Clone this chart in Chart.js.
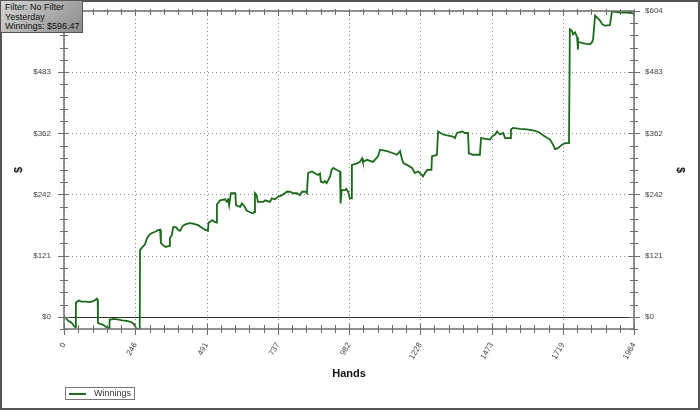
<!DOCTYPE html>
<html>
<head>
<meta charset="utf-8">
<script src="https://cdn.jsdelivr.net/npm/chart.js@4/dist/chart.umd.min.js"></script>
<style>
  html,body{margin:0;padding:0;background:#fff;}
  #wrap{position:relative;width:700px;height:410px;overflow:hidden;}
  #info{position:absolute;left:0;top:0;width:83px;height:33px;border:1px solid #555;
    background:linear-gradient(135deg,#d4d4d4,#8c8c8c);font:9px/9.6px "Liberation Sans",Arial,sans-serif;color:#111;
    padding:2px 0 0 4px;box-sizing:border-box;white-space:nowrap;overflow:hidden}
  #legend{position:absolute;left:65px;top:387px;width:70px;height:13px;border:1px solid #777;box-sizing:border-box;
    font:9px/11px "Liberation Sans",Arial,sans-serif;color:#333}
  #legend i{position:absolute;left:3px;top:5px;width:17px;height:2px;background:#1c6b1c}
  #legend span{position:absolute;left:28px;top:0}
</style>
</head>
<body>
<div id="wrap">
  <canvas id="c" width="700" height="410"></canvas>
  <div id="info">Filter: No Filter<br>Yesterday<br>Winnings: $596.47</div>
  <div id="legend"><i></i><span>Winnings</span></div>
</div>
<script>
// data
const hands = [0,8,14,22,28,34,40,41,50,60,75,90,100,108,113,116,117,125,135,145,152,156,157,170,185,200,215,230,240,248,252,261,
  262,279,287,296,305,314,324,331,334,340,350,362,365,372,376,385,393,400,410,420,434,445,462,475,486,496,498,505,510,518,526,
  527,538,555,562,565,569,575,590,593,607,613,623,629,640,651,655,658,664,668,686,693,710,716,727,737,751,768,779,790,803,813,820,833,837,
  841,854,875,882,885,893,899,905,917,922,928,940,951,953,957,968,972,979,985,991,992,1010,1020,1027,1030,1044,1065,1082,1089,1113,1134,1147,
  1158,1165,1170,1182,1199,1209,1220,1234,1237,1244,1251,1266,1268,1285,1289,1306,1340,1347,1354,1371,1382,1392,1395,1409,1433,1437,1468,
  1475,1485,1492,1502,1513,1520,1537,1540,1547,1571,1595,1616,1630,1640,1657,1675,1685,1692,1702,1716,1726,1740,1743,1750,1754,1761,1768,
  1771,1772,1778,1790,1812,1819,1823,1830,1840,1847,1854,1864,1881,1888,1892,1905,1916,1940,1957,1964];
const winnings = [0,-3,-8,-10,-13,-18,-21,28,32,30,30,29,31,33,36,34,-12,-14,-16,-20,-22,-22,-6,-4,-5,-7,-8,-10,-14,-22,-24,-24,
  132,143,156,163,166,168,171,172,146,142,138,140,155,162,177,177,172,170,180,183,185,184,181,176,172,170,186,188,191,188,186,
  222,230,232,227,234,220,244,244,220,217,224,217,210,207,204,207,244,240,227,227,230,227,234,232,237,240,247,247,244,244,240,247,247,244,
  284,287,280,283,267,265,268,264,277,290,294,290,287,224,250,250,253,247,234,234,300,303,306,313,306,310,306,317,330,327,323,320,
  327,310,303,300,294,284,287,280,277,284,290,290,317,320,366,360,356,353,363,366,363,363,323,320,320,353,350,
  356,360,366,360,363,353,353,370,373,371,370,368,366,363,356,350,340,331,333,340,343,343,568,565,558,562,552,
  528,543,542,540,538,542,548,595,589,585,578,575,576,603,603,602,601,601,600,598];

const xTicks = [0,245.5,491,736.5,982,1227.5,1473,1718.5,1964];
const yTicks = [0,120.8,241.6,362.4,483.2,604];
const yMin = -24.16, yMax = 604;

const tickFont = {family:'"Liberation Sans", Arial, sans-serif', size:8};
const titleFont = {family:'"Liberation Sans", Arial, sans-serif', size:11, weight:'bold'};

// dotted grid, zero line, crossed axis ticks, outer frame
const frame = {
  id:'frame',
  beforeDatasetsDraw(chart){
    const {ctx, chartArea:a, scales:{x, y}} = chart;
    ctx.save();
    ctx.strokeStyle = '#8c8c8c'; ctx.lineWidth = 1; ctx.setLineDash([1,3]);
    x.ticks.forEach(t=>{
      const p = Math.round(x.getPixelForValue(t.value))+0.5;
      ctx.beginPath(); ctx.moveTo(p,a.top); ctx.lineTo(p,a.bottom); ctx.stroke();
    });
    y.ticks.forEach(t=>{
      if(t.value===0) return;
      const p = Math.round(y.getPixelForValue(t.value))+0.5;
      ctx.beginPath(); ctx.moveTo(a.left,p); ctx.lineTo(a.right,p); ctx.stroke();
    });
    ctx.setLineDash([]);
    ctx.strokeStyle = '#333';
    const z = Math.round(y.getPixelForValue(0))+0.5;
    ctx.beginPath(); ctx.moveTo(a.left,z); ctx.lineTo(a.right,z); ctx.stroke();
    ctx.restore();
  },
  afterDatasetsDraw(chart){
    const {ctx, chartArea:a, scales:{x, y}} = chart;
    ctx.save();
    ctx.strokeStyle = '#6e6e6e'; ctx.lineWidth = 1.5;
    ctx.strokeRect(a.left, a.top, a.right-a.left, a.bottom-a.top);
    ctx.lineWidth = 1;
    const sub = vals => {
      const out = [];
      for(let i=0;i<vals.length-1;i++){
        const s = (vals[i+1]-vals[i])/5;
        for(let k=1;k<5;k++) out.push(vals[i]+s*k);
      }
      return out;
    };
    const xv = x.ticks.map(t=>t.value), yv = y.ticks.map(t=>t.value);
    const yMinor = sub(yv).concat([yv[0]-(yv[1]-yv[0])/5]);
    const vt = (px, y0, y1) => { ctx.beginPath(); ctx.moveTo(px,y0); ctx.lineTo(px,y1); ctx.stroke(); };
    const ht = (py, x0, x1) => { ctx.beginPath(); ctx.moveTo(x0,py); ctx.lineTo(x1,py); ctx.stroke(); };
    xv.forEach(v=>{ const p=Math.round(x.getPixelForValue(v))+0.5; vt(p,a.bottom-5,a.bottom+6); vt(p,a.top-2,a.top+5); });
    sub(xv).forEach(v=>{ const p=Math.round(x.getPixelForValue(v))+0.5; vt(p,a.bottom-4,a.bottom+4); vt(p,a.top-2,a.top+4); });
    yv.forEach(v=>{ const p=Math.round(y.getPixelForValue(v))+0.5; ht(p,a.left-6,a.left+5); ht(p,a.right-5,a.right+6); });
    yMinor.forEach(v=>{ const p=Math.round(y.getPixelForValue(v))+0.5; ht(p,a.left-4,a.left+4); ht(p,a.right-4,a.right+4); });
    ctx.strokeStyle = '#555'; ctx.lineWidth = 2;
    ctx.strokeRect(1,1,chart.width-2,chart.height-2);
    ctx.restore();
  }
};

const yScale = (pos, w, pad, tpad) => ({
  type:'linear', position:pos, min:yMin, max:yMax,
  afterBuildTicks: s => { s.ticks = yTicks.map(v=>({value:v})); },
  afterFit: s => { s.width = w; s.paddingTop = 0; s.paddingBottom = 0; },
  grid:{display:false, drawTicks:false}, border:{display:false},
  ticks:{color:'#444', font:tickFont, padding:pad, callback:v=>'$'+Math.round(v)},
  title:{display:true, text:'$', color:'#111', font:titleFont, padding:{top:tpad,bottom:0}}
});

new Chart(document.getElementById('c'), {
  type:'line',
  data:{datasets:[{
    label:'Winnings',
    data:hands.map((h,i)=>({x:h, y:winnings[i]})),
    borderColor:'#1c6b1c', borderWidth:1.8, pointRadius:0, tension:0, fill:false, yAxisID:'y'
  }]},
  options:{
    responsive:false, animation:false, devicePixelRatio:1,
    layout:{padding:{top:11,left:0,right:0,bottom:0}},
    plugins:{legend:{display:false}, tooltip:{enabled:false}},
    scales:{
      x:{
        type:'linear', min:0, max:1964,
        afterBuildTicks: s => { s.ticks = xTicks.map(v=>({value:v})); },
        afterFit: s => { s.height = 81; s.paddingLeft = 0; s.paddingRight = 0; },
        grid:{display:false, drawTicks:false}, border:{display:false},
        ticks:{color:'#444', font:tickFont, padding:12, minRotation:60, maxRotation:60, callback:v=>String(Math.round(v))},
        title:{display:true, text:'Hands', color:'#111', font:titleFont, padding:{top:0,bottom:29}}
      },
      y: yScale('left', 64, 13, 12),
      y2: yScale('right', 66, 11, 13)
    }
  },
  plugins:[frame]
});
</script>
</body>
</html>
